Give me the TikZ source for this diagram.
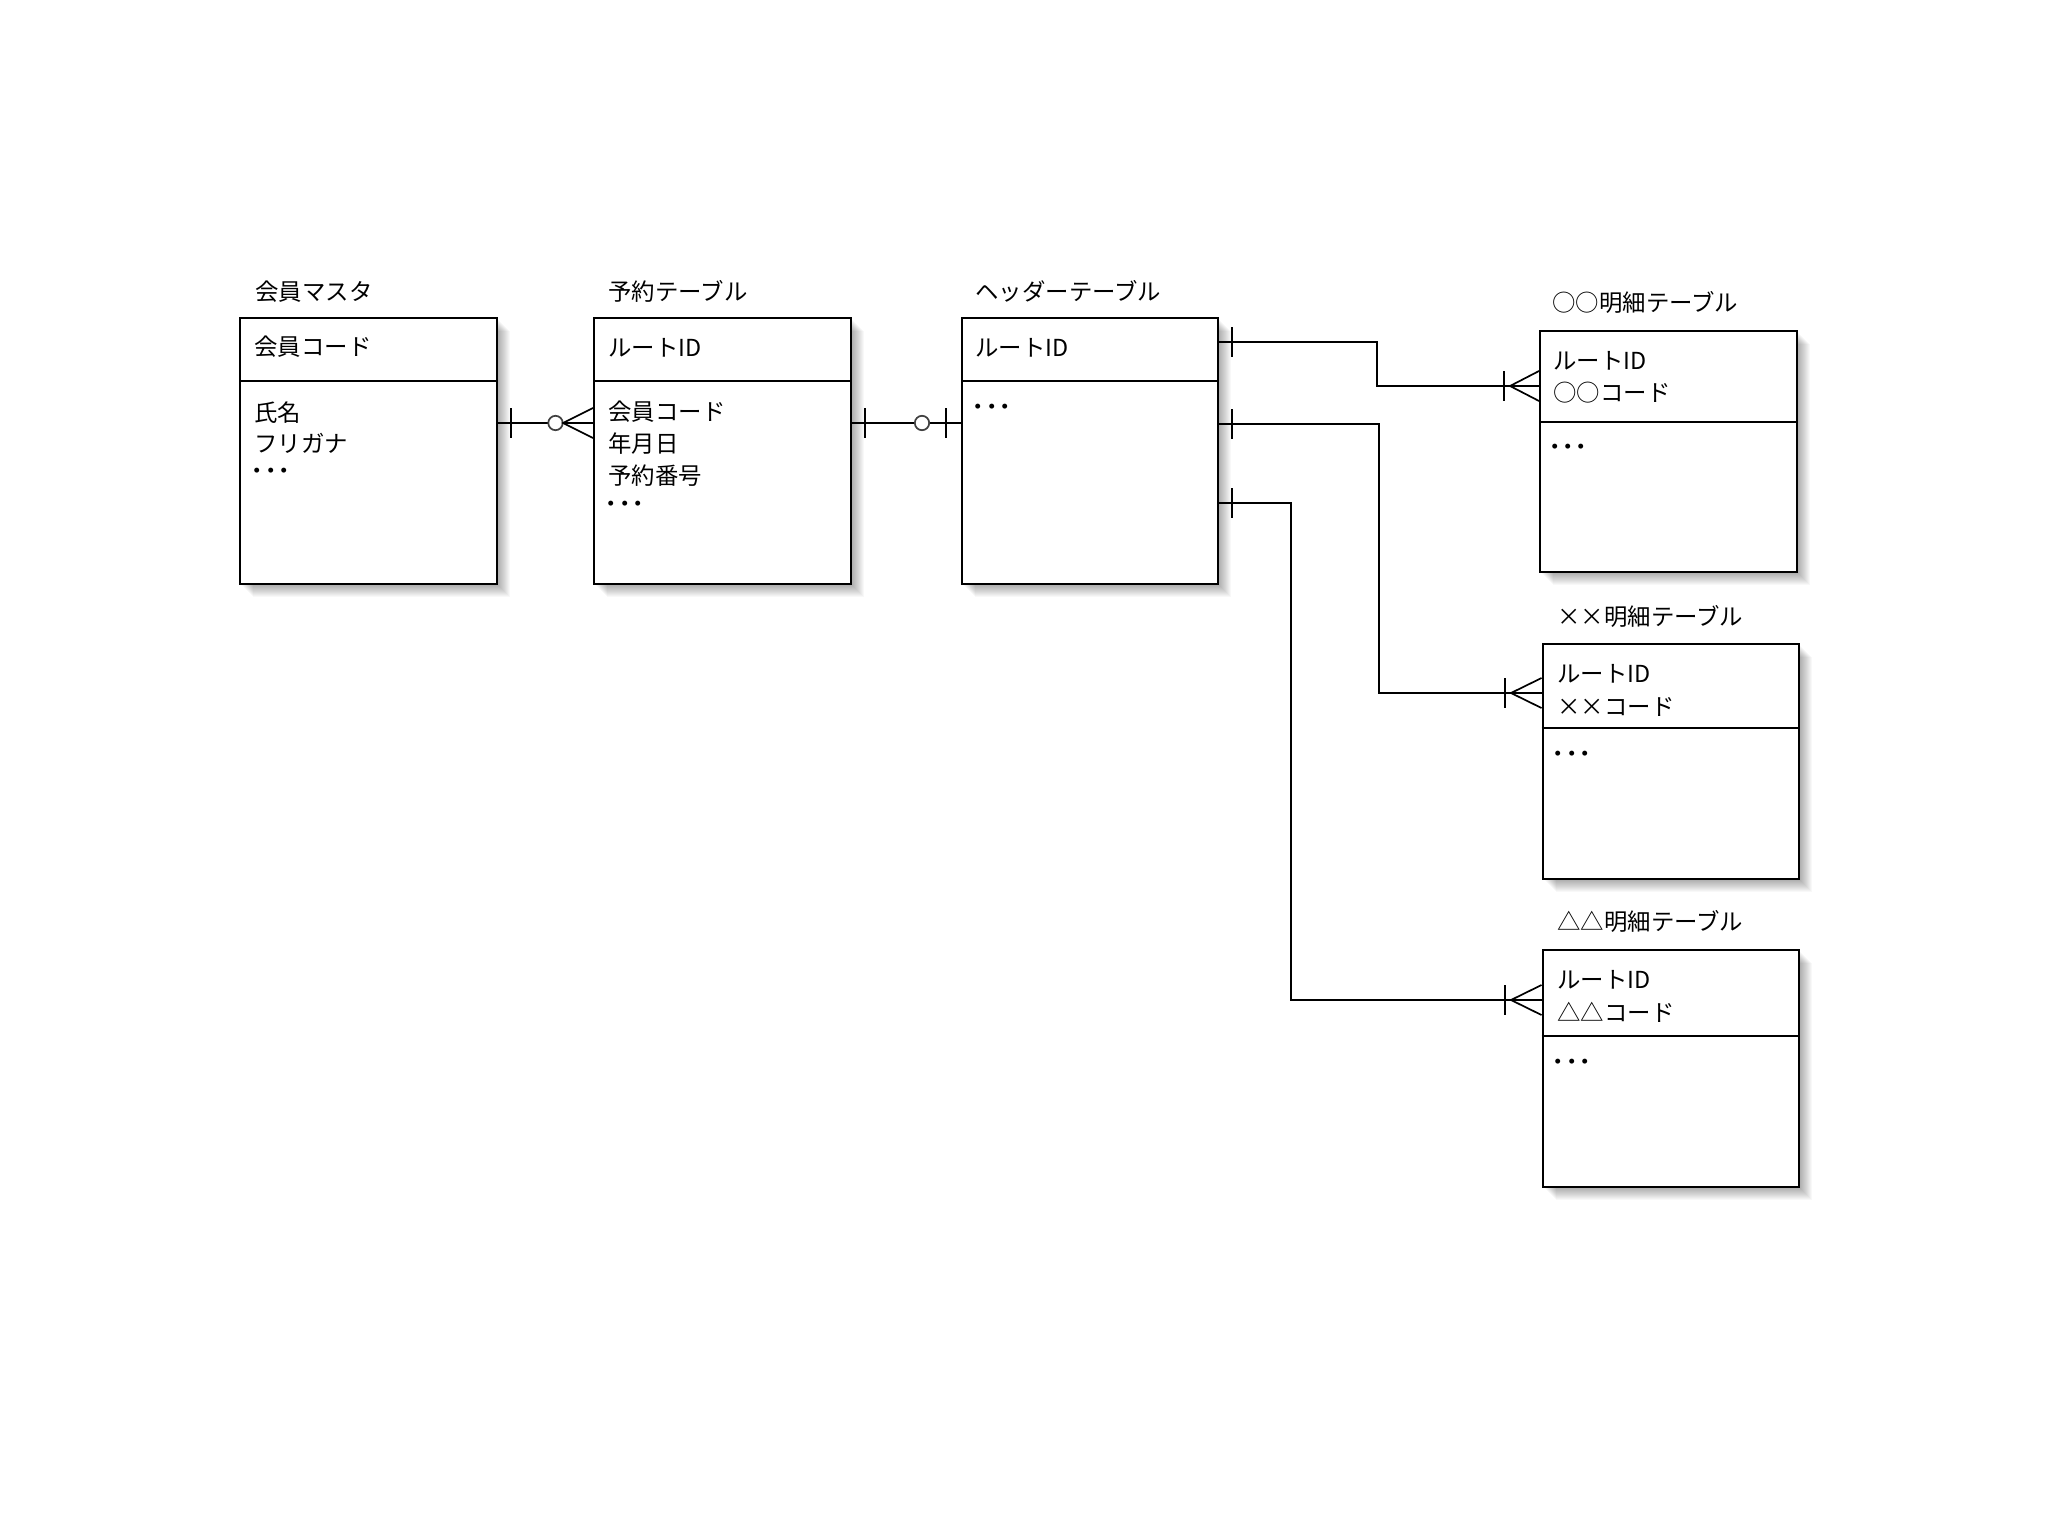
\documentclass[tikz,border=0pt]{standalone}
\usepackage{fontspec}
\setmainfont{Noto Sans CJK JP}
\newcommand\ertable[6]{%
  \foreach \d in {1,...,14} \fill[black,opacity=0.026] (#2+\d,#3+\d) rectangle (#4+\d,#5+\d);
  \node[tbl, minimum width={(#4-#2)*0.5pt}, minimum height={(#5-#3)*0.5pt}] (#1) at (#2,#3) {};
  \draw[line width=1.1pt] (#1.west |- 0,#6) -- (#1.east |- 0,#6);
}
\newcommand\onebar[2]{\draw[conn] (#1,#2-15) -- (#1,#2+15);}
\newcommand\zerocirc[2]{\draw[conn, draw=black!75, fill=white] (#1,#2) circle[radius=3.6pt];}
\newcommand\crowfoot[3]{\draw[conn] (#3,#2-15) -- (#1,#2) -- (#3,#2+15);}
\newcommand\tdots{・\kern-0.43em・\kern-0.43em・}
\begin{document}
\begin{tikzpicture}[x=0.5pt,y=-0.5pt,
  tbl/.style={draw=black, line width=1.1pt, fill=white, inner sep=0pt, anchor=north west},
  lbl/.style={anchor=west, inner sep=0pt, font=\fontsize{11.7}{13}\selectfont},
  conn/.style={line width=0.85pt}]
\useasboundingbox[fill=white] (0,0) rectangle (2048,1536);

% tables
\ertable{b1}{239}{317}{496}{583}{381}
\ertable{b2}{593}{317}{850}{583}{381}
\ertable{b3}{961}{317}{1217}{583}{381}
\ertable{b4}{1539}{330}{1796}{571}{422}
\ertable{b5}{1541.5}{643}{1798}{878}{728}
\ertable{b6}{1541.5}{949}{1798}{1186}{1036}

% titles
\node[lbl] (t1) at (255,291.5) {会員マスタ};
\node[lbl] (t2) at (608,291.5) {予約テーブル};
\node[lbl] (t3) at (975,291.5) {ヘッダーテーブル};
\node[lbl] (t4) at (1552,302) {○○明細テーブル};
\node[lbl] (t5) at (1557,616) {××明細テーブル};
\node[lbl] (t6) at (1557,921.5) {△△明細テーブル};

% keys
\node[lbl] (k1) at (254,347) {会員コード};
\node[lbl] (k2) at (608,348) {ルートID};
\node[lbl] (k3) at (975,348) {ルートID};
\node[lbl] (k4a) at (1553,361) {ルートID};
\node[lbl] (k4b) at (1553,392.5) {○○コード};
\node[lbl] (k5a) at (1557,674) {ルートID};
\node[lbl] (k5b) at (1557,707) {××コード};
\node[lbl] (k6a) at (1557,980) {ルートID};
\node[lbl] (k6b) at (1557,1012) {△△コード};

% bodies
\node[lbl] (a1) at (254,412.5) {氏名};
\node[lbl] (a2) at (254,443) {フリガナ};
\node[lbl] (a3) at (245.3,473.5) {\tdots};
\node[lbl] (c1) at (608,411.5) {会員コード};
\node[lbl] (c2) at (608,444) {年月日};
\node[lbl] (c3) at (608,476) {予約番号};
\node[lbl] (c4) at (599.3,507) {\tdots};
\node[lbl] (d1) at (966.3,410) {\tdots};
\node[lbl] (e1) at (1542.8,450) {\tdots};
\node[lbl] (f1) at (1546.3,757) {\tdots};
\node[lbl] (g1) at (1546.3,1065) {\tdots};

% connectors
\draw[conn] (b1.east |- 0,423) -- (b2.west |- 0,423);
\onebar{511}{423}
\zerocirc{555.5}{423}
\crowfoot{563}{423}{593}

\draw[conn] (b2.east |- 0,423) -- (b3.west |- 0,423);
\onebar{865}{423}
\zerocirc{922}{423}
\onebar{946}{423}

\draw[conn] (b3.east |- 0,342) -- (1377,342) -- (1377,386) -- (b4.west |- 0,386);
\onebar{1232}{342}
\onebar{1504}{386}
\crowfoot{1510}{386}{1539}

\draw[conn] (b3.east |- 0,424) -- (1379,424) -- (1379,693) -- (b5.west |- 0,693);
\onebar{1232}{424}
\onebar{1505}{693}
\crowfoot{1511}{693}{1541.5}

\draw[conn] (b3.east |- 0,503) -- (1291,503) -- (1291,1000) -- (b6.west |- 0,1000);
\onebar{1232}{503}
\onebar{1505}{1000}
\crowfoot{1511}{1000}{1541.5}
\end{tikzpicture}
\end{document}
